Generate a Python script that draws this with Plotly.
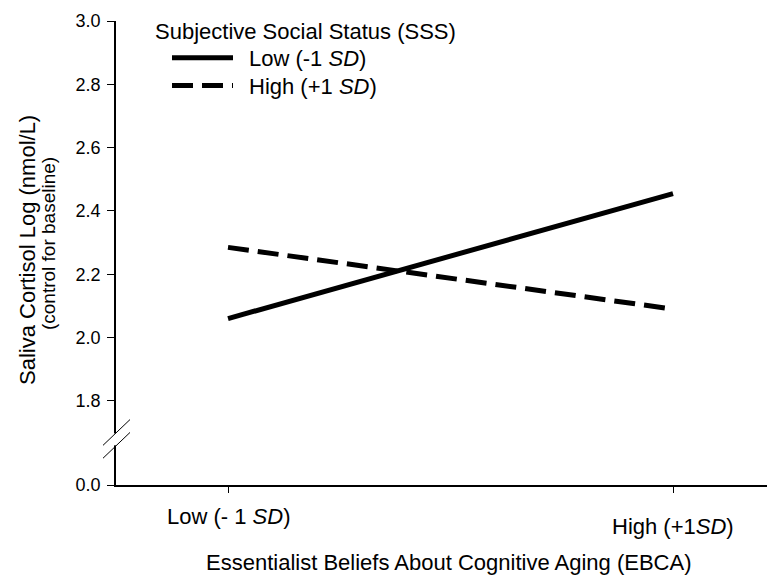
import plotly.graph_objects as go

# ---------------- data ----------------
ebca_levels = ["Low (- 1 <i>SD</i>)", "High (+1<i>SD</i>)"]
ebca_x = [0, 1]
sss_low_values = [2.06, 2.455]    # Low SSS (-1 SD)
sss_high_values = [2.285, 2.09]   # High SSS (+1 SD)
series_names = ["Low (-1 <i>SD</i>)", "High (+1 <i>SD</i>)"]
legend_title = "Subjective Social Status (SSS)"
y_tick_labels = ["0.0", "1.8", "2.0", "2.2", "2.4", "2.6", "2.8", "3.0"]
x_title = "Essentialist Beliefs About Cognitive Aging (EBCA)"
y_title_1 = "Saliva Cortisol Log (nmol/L)"
y_title_2 = "(control for baseline)"

# ---------------- layout geometry ----------------
# the page body adds an 8px margin, so the figure is drawn 8px smaller and all
# reference pixel positions are shifted accordingly
OFF = 8
W, H = 775 - OFF, 579 - OFF
PLOT_L, PLOT_R, PLOT_T, PLOT_B = 116, 772, 17, 485   # reference pixels
ML = PLOT_L - OFF
MR = W - (PLOT_R - OFF)
MT = PLOT_T - OFF
MB = H - (PLOT_B - OFF)
PW = PLOT_R - PLOT_L
PH = PLOT_B - PLOT_T
FONT = "Liberation Sans, Arial, sans-serif"
LW = 5

Y_TOP = 3.0
Y_PER_PX = 0.2 / 64.0
BREAK_GAP_PX = 85  # pixels between the 1.8 tick and the (broken) 0.0 baseline
Y_BOTTOM = 1.8 - BREAK_GAP_PX * Y_PER_PX
y_tick_pos = [Y_BOTTOM if float(t) == 0.0 else float(t) for t in y_tick_labels]

X_LEFT = -112 / 445.0
X_RIGHT = 1 + 99 / 445.0


def px(xp, yp):
    """reference pixel -> paper coordinates"""
    return (xp - PLOT_L) / PW, (PLOT_B - yp) / PH


fig = go.Figure()
fig.add_trace(go.Scatter(x=ebca_x, y=sss_low_values, mode="lines", name=series_names[0],
                         line=dict(color="black", width=LW), showlegend=False))
fig.add_trace(go.Scatter(x=ebca_x, y=sss_high_values, mode="lines", name=series_names[1],
                         line=dict(color="black", width=LW, dash="21px,9px"), showlegend=False))

shapes = []
annotations = []

# axis break marks
gx0, gy0 = px(PLOT_L - 3, 433)
gx1, gy1 = px(PLOT_L + 3, 445)
shapes.append(dict(type="rect", xref="paper", yref="paper", x0=gx0, x1=gx1, y0=gy1, y1=gy0,
                   fillcolor="white", line=dict(width=0), layer="above"))
for (a, b, c, d) in [(103, 445, 130, 419), (103, 458, 130, 432)]:
    x0, y0 = px(a, b)
    x1, y1 = px(c, d)
    shapes.append(dict(type="line", xref="paper", yref="paper", x0=x0, y0=y0, x1=x1, y1=y1,
                       line=dict(color="black", width=1)))

# custom legend
tx, ty = px(153, 28)
annotations.append(dict(text=legend_title, xref="paper", yref="paper", x=tx, y=ty,
                        xanchor="left", yanchor="middle", showarrow=False,
                        font=dict(family=FONT, size=22, color="black")))
for name, yp, dash in [(series_names[0], 54, "solid"), (series_names[1], 82, "21px,9px")]:
    x0, y0 = px(172, yp)
    x1, _ = px(233, yp)
    shapes.append(dict(type="line", xref="paper", yref="paper", x0=x0, y0=y0, x1=x1, y1=y0,
                       line=dict(color="black", width=LW, dash=dash)))
    lx, ly = px(247, yp + 1)
    annotations.append(dict(text=name, xref="paper", yref="paper", x=lx, y=ly,
                            xanchor="left", yanchor="middle", showarrow=False,
                            font=dict(family=FONT, size=22, color="black")))

# x tick labels (staggered as in the reference)
for xv, lab, shift in zip(ebca_x, ebca_levels, [-31, -41]):
    annotations.append(dict(text=lab, xref="x", yref="paper", x=xv, y=0, yshift=shift,
                            xanchor="center", yanchor="middle", showarrow=False,
                            font=dict(family=FONT, size=22, color="black")))

# x title
xt, yt = px(448, 563)
annotations.append(dict(text=x_title, xref="paper", yref="paper", x=xt, y=yt,
                        xanchor="center", yanchor="middle", showarrow=False,
                        font=dict(family=FONT, size=22, color="black")))
# y titles
for text, xp, yp, size in [(y_title_1, 27, 248, 22), (y_title_2, 48, 242, 19)]:
    ax, ay = px(xp, yp)
    annotations.append(dict(text=text, xref="paper", yref="paper", x=ax, y=ay, textangle=-90,
                            xanchor="center", yanchor="middle", showarrow=False,
                            font=dict(family=FONT, size=size, color="black")))

fig.update_layout(
    width=W, height=H,
    margin=dict(l=ML, r=MR, t=MT, b=MB, pad=0),
    paper_bgcolor="white", plot_bgcolor="white",
    showlegend=False,
    font=dict(family=FONT, color="black"),
    shapes=shapes, annotations=annotations,
    xaxis=dict(range=[X_LEFT, X_RIGHT], tickvals=ebca_x, showticklabels=False,
               ticks="outside", ticklen=6, tickwidth=1, tickcolor="black",
               showline=True, linecolor="black", linewidth=1.5,
               showgrid=False, zeroline=False, fixedrange=True),
    yaxis=dict(range=[Y_BOTTOM, Y_TOP], tickvals=y_tick_pos, ticktext=y_tick_labels,
               ticks="outside", ticklen=7, tickwidth=1, tickcolor="black",
               ticklabelstandoff=3, ticklabeloverflow="allow",
               tickfont=dict(family=FONT, size=18, color="black"),
               showline=True, linecolor="black", linewidth=1.5,
               showgrid=False, zeroline=False, fixedrange=True),
)

fig.write_html("out.html")
